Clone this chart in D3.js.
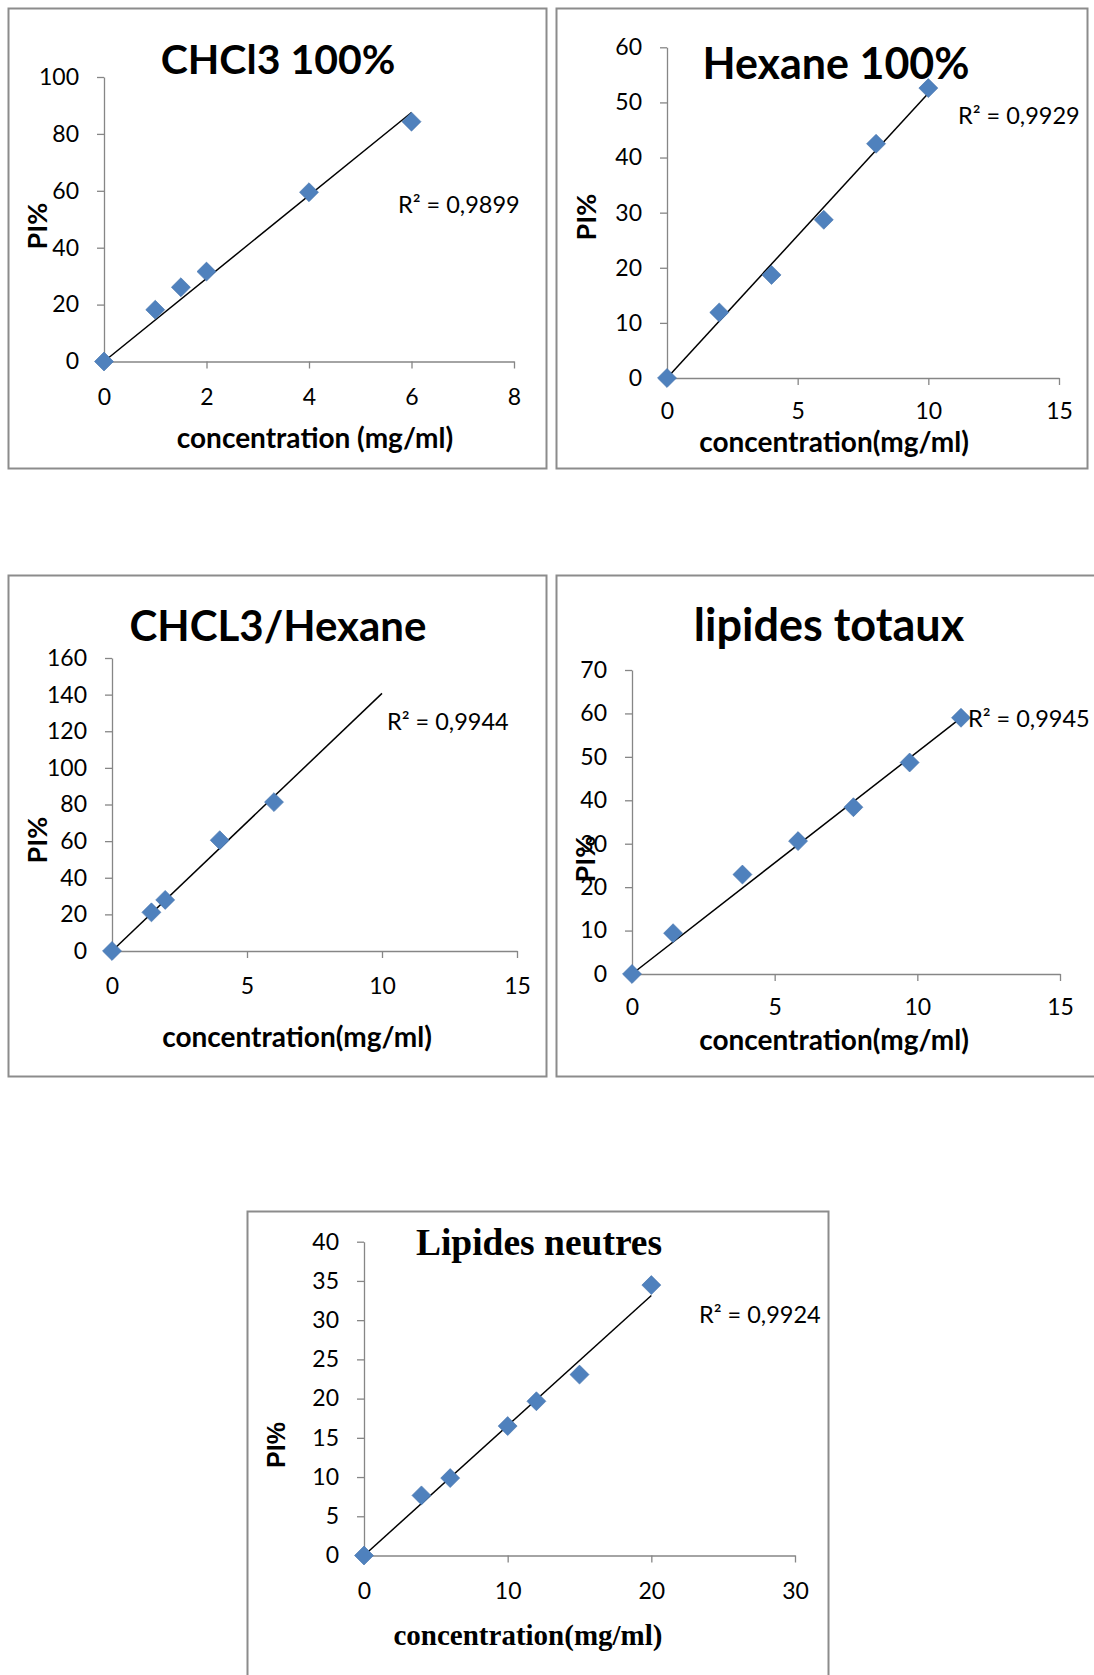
<!DOCTYPE html>
<html>
<head>
<meta charset="utf-8">
<script src="https://cdnjs.cloudflare.com/ajax/libs/d3/7.8.5/d3.min.js"></script>
<style>
  body { margin: 0; background: #fff; }
  svg { display: block; }
</style>
</head>
<body>
<svg id="chart"></svg>
<script>
var width = 1094, height = 1675;

// chart data
var titles = ["CHCl3 100%", "Hexane 100%", "CHCL3/Hexane", "lipides totaux", "Lipides neutres"];
var r2Labels = ["R² = 0,9899", "R² = 0,9929", "R² = 0,9944", "R² = 0,9945", "R² = 0,9924"];
var xLabels = ["concentration (mg/ml)", "concentration(mg/ml)", "concentration(mg/ml)",
               "concentration(mg/ml)", "concentration(mg/ml)"];
var yLabel = "PI%";

var chcl3X = [0, 1, 1.5, 2, 4, 6];
var chcl3Y = [0, 18.2, 26.1, 31.6, 59.5, 84.3];
var hexaneX = [0, 2, 4, 6, 8, 10];
var hexaneY = [0, 11.9, 18.7, 28.7, 42.5, 52.6];
var mixX = [0, 1.46, 1.97, 3.99, 6];
var mixY = [0, 21.1, 27.9, 60.5, 81.3];
var totauxX = [0, 1.44, 3.87, 5.82, 7.76, 9.73, 11.53];
var totauxY = [0, 9.4, 22.9, 30.6, 38.4, 48.7, 59.0];
var neutresX = [0, 4, 6, 10, 12, 15, 20];
var neutresY = [0, 7.66, 9.87, 16.5, 19.66, 23.06, 34.47];

// x where each trend line stops
var trendEnds = [6, 10, 10, 11.53, 20];

var xTicks = [[0, 2, 4, 6, 8], [0, 5, 10, 15], [0, 5, 10, 15], [0, 5, 10, 15], [0, 10, 20, 30]];
var yTicks = [
  [0, 20, 40, 60, 80, 100],
  [0, 10, 20, 30, 40, 50, 60],
  [0, 20, 40, 60, 80, 100, 120, 140, 160],
  [0, 10, 20, 30, 40, 50, 60, 70],
  [0, 5, 10, 15, 20, 25, 30, 35, 40]
];
var seriesX = [chcl3X, hexaneX, mixX, totauxX, neutresX];
var seriesY = [chcl3Y, hexaneY, mixY, totauxY, neutresY];

// layout of each panel on the page
var layout = [
  {frame: [8.5, 8.5, 546.5, 468.5], plot: [104, 514, 77, 361.5], titleSize: 41, tickPad: 20,
   title: [278, 74], r2: [398, 213], ylab: [37, 226], xlab: [315, 448], serif: false},
  {frame: [556.5, 8.5, 1087.5, 468.5], plot: [667, 1059, 47.3, 378], titleSize: 43, tickPad: 18,
   title: [836, 79], r2: [958, 124], ylab: [586, 217], xlab: [834, 452], serif: false},
  {frame: [8.5, 575.5, 546.5, 1076.5], plot: [112, 517, 658, 951], titleSize: 42, tickPad: 20,
   title: [278, 641], r2: [387, 730], ylab: [37, 840], xlab: [297, 1047], serif: false},
  {frame: [556.5, 575.5, 1110, 1076.5], plot: [632, 1060, 670, 974], titleSize: 45, tickPad: 18,
   title: [829, 641], r2: [968, 727], ylab: [585, 859], xlab: [834, 1050], serif: false},
  {frame: [247.5, 1211.5, 828.5, 1700], plot: [364, 795, 1241.7, 1555.5], titleSize: 37.5, tickPad: 20,
   title: [539, 1255], r2: [699, 1323], ylab: [276, 1445], xlab: [528, 1645], serif: true}
];

var sans = "Lato, 'Open Sans', sans-serif";
var serif = "'Liberation Serif', 'DejaVu Serif', serif";
var axisColor = "#868686";
var markColor = "#4F81BD";

var svg = d3.select("#chart")
  .attr("width", width)
  .attr("height", height);

svg.append("rect")
  .attr("width", width)
  .attr("height", height)
  .attr("fill", "#fff");

titles.forEach(function (t, i) { drawPanel(i); });

function drawPanel(i) {
  var L = layout[i];
  var xs = seriesX[i], ys = seriesY[i];
  var g = svg.append("g");

  g.append("rect")
    .attr("x", L.frame[0])
    .attr("y", L.frame[1])
    .attr("width", L.frame[2] - L.frame[0])
    .attr("height", L.frame[3] - L.frame[1])
    .attr("fill", "none")
    .attr("stroke", "#8c8c8c")
    .attr("stroke-width", 2);

  var xScale = d3.scaleLinear()
    .domain(d3.extent(xTicks[i]))
    .range([L.plot[0], L.plot[1]]);
  var yScale = d3.scaleLinear()
    .domain(d3.extent(yTicks[i]))
    .range([L.plot[3], L.plot[2]]);

  var xAxis = d3.axisBottom(xScale)
    .tickValues(xTicks[i])
    .tickFormat(d3.format("d"))
    .tickSize(7)
    .tickSizeOuter(0)
    .tickPadding(L.tickPad);
  var yAxis = d3.axisLeft(yScale)
    .tickValues(yTicks[i])
    .tickFormat(d3.format("d"))
    .tickSize(7)
    .tickSizeOuter(0)
    .tickPadding(18);

  var gx = g.append("g")
    .attr("transform", "translate(0," + L.plot[3] + ")")
    .call(xAxis);
  var gy = g.append("g")
    .attr("transform", "translate(" + L.plot[0] + ",0)")
    .call(yAxis);

  [gx, gy].forEach(function (a) {
    a.select(".domain").attr("stroke", axisColor).attr("stroke-width", 1.3);
    a.selectAll(".tick line").attr("stroke", axisColor).attr("stroke-width", 1.3);
    a.selectAll(".tick text")
      .attr("fill", "#000")
      .style("font-family", sans)
      .style("font-size", "23px");
  });

  // linear trend line through the origin (least squares)
  var slope = d3.sum(xs, function (v, k) { return v * ys[k]; }) /
              d3.sum(xs, function (v) { return v * v; });
  g.append("line")
    .attr("x1", xScale(0))
    .attr("y1", yScale(0))
    .attr("x2", xScale(trendEnds[i]))
    .attr("y2", yScale(slope * trendEnds[i]))
    .attr("stroke", "#000")
    .attr("stroke-width", 1.5);

  g.selectAll("path.pt")
    .data(xs)
    .enter()
    .append("path")
      .attr("class", "pt")
      .attr("d", d3.symbol(d3.symbolSquare, 180))
      .attr("transform", function (d, k) {
        return "translate(" + xScale(d) + "," + yScale(ys[k]) + ") rotate(45)";
      })
      .attr("fill", markColor)
      .attr("stroke", "#4674ad")
      .attr("stroke-width", 0.6);

  // title
  g.append("text")
    .attr("x", L.title[0])
    .attr("y", L.title[1])
    .style("text-anchor", "middle")
    .style("font-family", L.serif ? serif : sans)
    .style("font-weight", "bold")
    .style("font-size", L.titleSize + "px")
    .text(titles[i]);

  g.append("text")
    .attr("x", L.r2[0])
    .attr("y", L.r2[1])
    .style("font-family", sans)
    .style("font-size", "23.5px")
    .text(r2Labels[i]);

  g.append("text")
    .attr("transform", "translate(" + L.ylab[0] + "," + L.ylab[1] + ") rotate(-90)")
    .attr("dy", "0.36em")
    .style("text-anchor", "middle")
    .style("font-family", L.serif ? "'Liberation Sans', Arial, sans-serif" : sans)
    .style("font-weight", "bold")
    .style("font-size", L.serif ? "25px" : "27px")
    .text(yLabel);

  g.append("text")
    .attr("x", L.xlab[0])
    .attr("y", L.xlab[1])
    .style("text-anchor", "middle")
    .style("font-family", L.serif ? serif : sans)
    .style("font-weight", "bold")
    .style("font-size", L.serif ? "29px" : "28px")
    .text(xLabels[i]);
}
</script>
</body>
</html>
